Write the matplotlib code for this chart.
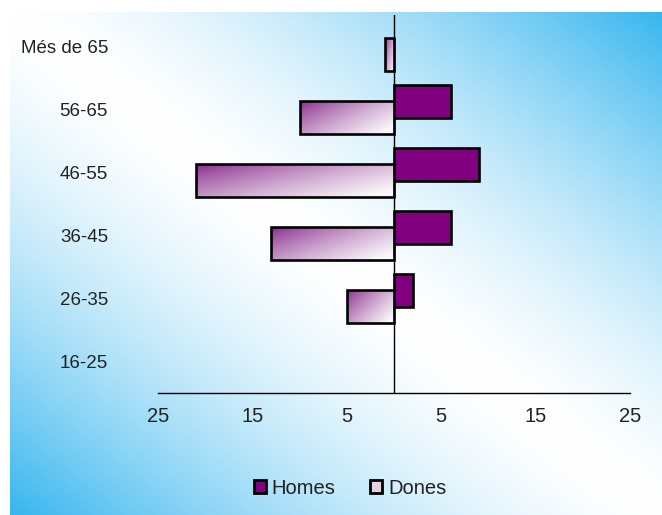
import numpy as np
import matplotlib
matplotlib.use("Agg")
import matplotlib.pyplot as plt
from matplotlib.patches import Rectangle
from matplotlib.colors import to_rgb

plt.rcParams['font.family'] = ['Liberation Sans', 'DejaVu Sans']

# data
grups = ["16-25", "26-35", "36-45", "46-55", "56-65", "Més de 65"]
homes = [0, 2, 6, 9, 6, 0]
dones = [0, 5, 13, 21, 10, 1]
ticks = [-25, -15, -5, 5, 15, 25]
tick_labels = ["25", "15", "5", "5", "15", "25"]

purple = "#800080"
blue = np.array(to_rgb("#38b6ef"))
white = np.array([1.0, 1.0, 1.0])

W, H = 662, 515
fig = plt.figure(figsize=(W / 100, H / 100), dpi=100)
fig.patch.set_facecolor("white")

# background: blue at top-right/bottom-left, white along the main diagonal
bg = fig.add_axes([10 / W, 0, 1 - 10 / W, (H - 12) / H], zorder=0)
u, v = np.meshgrid(np.linspace(0, 1, 300), np.linspace(0, 1, 300))
t = np.abs(u - v) ** 1.5
img = white[None, None, :] * (1 - t[..., None]) + blue[None, None, :] * t[..., None]
bg.imshow(img, aspect="auto", extent=[0, 1, 1, 0])
bg.axis("off")

ax = fig.add_axes([158 / W, (H - 393) / H, (630 - 158) / W, (393 - 15) / H], zorder=1)
ax.patch.set_alpha(0)

y = np.arange(len(grups))
h = 0.51
off = 0.127

for yi, val in zip(y, homes):
    if val == 0:
        continue
    ax.barh(yi + off, val, height=h, color=purple, edgecolor="black", linewidth=1.9, zorder=3)

# Dones: purple -> white gradient inside each bar
pc = np.array(to_rgb("#86278a"))
gu, gv = np.meshgrid(np.linspace(0, 1, 200), np.linspace(0, 1, 50))
gt = np.clip(0.65 * gu + 0.45 * (1 - gv), 0, 1) ** 0.8
grad = pc[None, None, :] * (1 - gt[..., None]) + np.array([0.98, 0.97, 0.98])[None, None, :] * gt[..., None]
for yi, val in zip(y, dones):
    if val == 0:
        continue
    yc = yi - off
    rect = Rectangle((-val, yc - h / 2), val, h, facecolor="none", edgecolor="black",
                     linewidth=1.9, zorder=4)
    ax.add_patch(rect)
    im = ax.imshow(grad, extent=[-val, 0, yc - h / 2, yc + h / 2], origin="lower",
                   aspect="auto", zorder=3)
    im.set_clip_path(rect)

ax.axvline(0, color="black", linewidth=1, zorder=5)

ax.set_xlim(-25, 25)
ax.set_ylim(-0.5, len(grups) - 0.5)
ax.set_xticks(ticks)
ax.set_xticklabels(tick_labels)
ax.set_yticks(y)
ax.set_yticklabels(grups)
ax.tick_params(length=0, colors="#222222")
ax.tick_params(axis="y", pad=36, labelsize=13.5)
ax.tick_params(axis="x", pad=10, labelsize=14.5)
for s in ["left", "top", "right"]:
    ax.spines[s].set_visible(False)
ax.spines["bottom"].set_linewidth(1)

# legend
hh = Rectangle((0, 0), 1, 1, facecolor=purple, edgecolor="black", linewidth=2)
hd = Rectangle((0, 0), 1, 1, facecolor="#e4cfe4", edgecolor="black", linewidth=2)
fig.legend([hh, hd], ["Homes", "Dones"], loc="center", bbox_to_anchor=(350 / W, 1 - 488 / H),
           ncol=2, frameon=False, fontsize=14.5, handlelength=0.6, handleheight=0.6,
           handletextpad=0.3, columnspacing=1.7, labelcolor="#222222")

fig.savefig("out.png", dpi=100)
